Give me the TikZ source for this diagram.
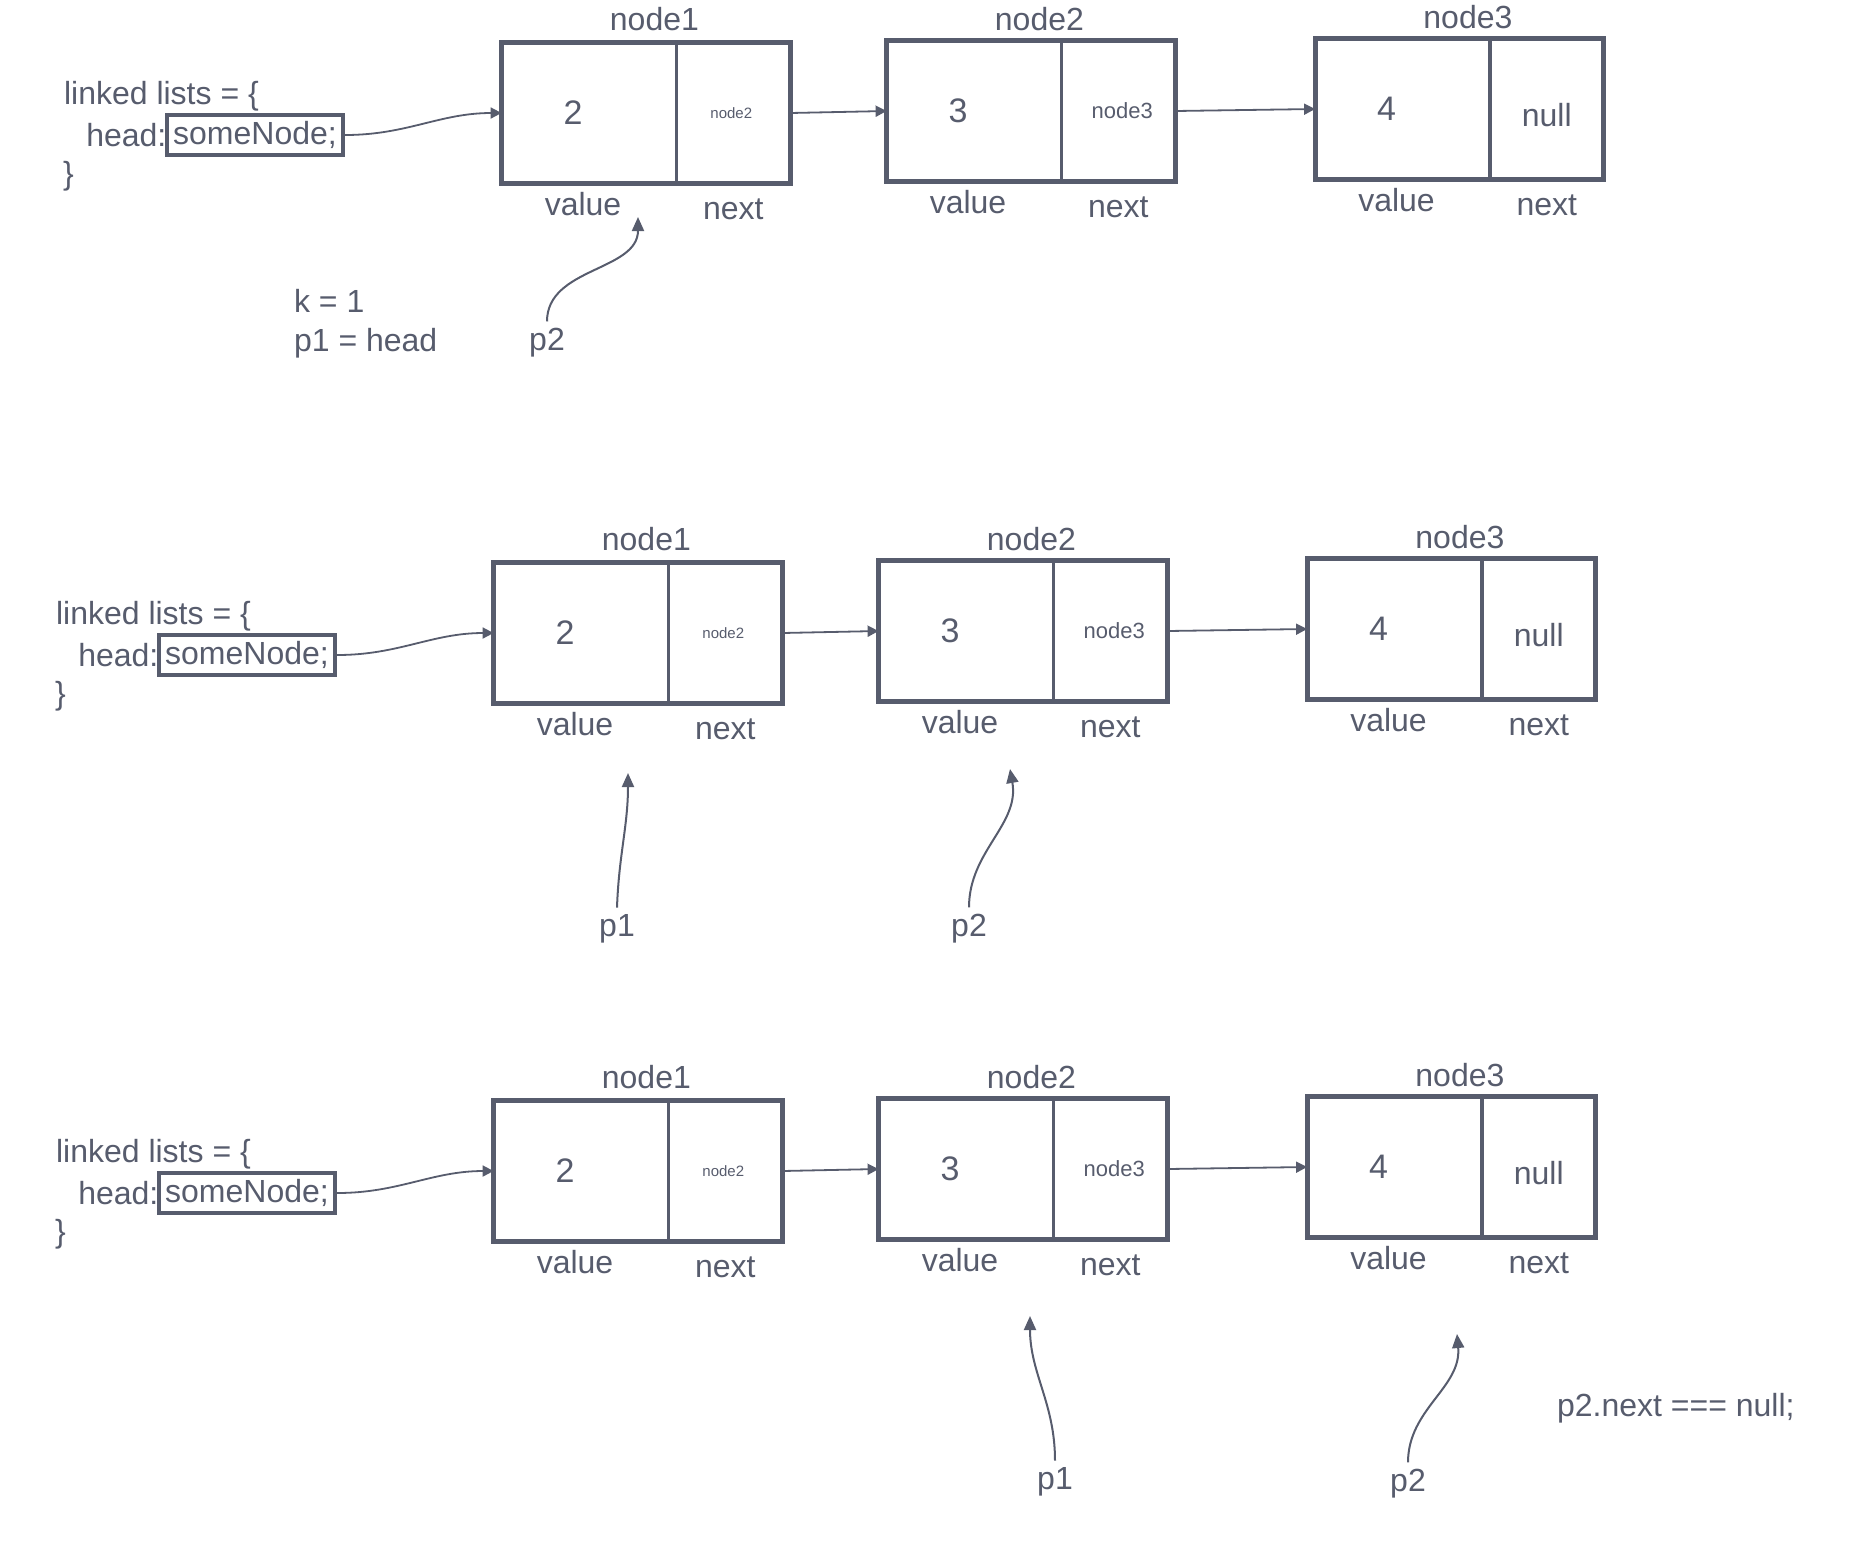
\documentclass[tikz,border=0pt]{standalone}
\usepackage{fontspec}
\setmainfont{Liberation Sans}
\usetikzlibrary{arrows.meta}
\definecolor{ink}{HTML}{575C6D}

\begin{document}
\begin{tikzpicture}[x=0.5pt,y=-0.5pt,color=ink,
    cellv/.style={minimum width=87pt,minimum height=70pt,inner sep=0pt},
    celln/.style={minimum width=56.5pt,minimum height=70pt,inner sep=0pt,anchor=west},
    frame/.style={line width=2.5pt},
    divider/.style={line width=1.8pt},
    lbl/.style={font=\fontsize{16}{19}\selectfont},
    num/.style={font=\fontsize{17}{20}\selectfont},
    small/.style={font=\fontsize{11}{13}\selectfont},
    tiny/.style={font=\fontsize{7.5}{9}\selectfont},
    headbox/.style={draw,line width=2.2pt,minimum width=88pt,minimum height=20pt,inner sep=0pt,font=\fontsize{16}{19}\selectfont},
    link/.style={line width=0.9pt,-{Triangle[length=5.5pt,width=5.5pt]}},
    ptr/.style={line width=1pt,-{Triangle[length=7pt,width=6pt]}}]
    \useasboundingbox (0,0) rectangle (1874,1560);

    % first list
    \node[lbl,anchor=west] (a0) at (57,96) {linked lists = \{};
    \node[headbox] (ahead) at (255,135) {someNode;};
    \node[lbl,anchor=east,inner sep=1pt] (ah) at ([xshift=2pt]ahead.west) {head:};
    \node[lbl,anchor=west] (ac) at (56,176) {\}};

    \node[cellv] (a1v) at (589,113) {};
    \node[celln] (a1n) at (a1v.east) {};
    \draw[frame] (a1v.north west) rectangle (a1n.south east);
    \draw[divider] (a1n.north west) -- (a1n.south west);
    \node[num] (a1x) at ([xshift=-8pt]a1v.center) {2};
    \node[tiny] (a1y) at ([xshift=-1pt]a1n.center) {node2};
    \node[lbl,anchor=base] (a1t) at ([xshift=-11pt,yshift=6pt]a1n.north west) {node1};
    \node[lbl,anchor=base] (a1a) at ([xshift=-3pt,yshift=-16pt]a1v.south) {value};
    \node[lbl,anchor=base] (a1b) at ([yshift=-18pt]a1n.south) {next};

    \node[cellv] (a2v) at (974,111) {};
    \node[celln] (a2n) at (a2v.east) {};
    \draw[frame] (a2v.north west) rectangle (a2n.south east);
    \draw[divider] (a2n.north west) -- (a2n.south west);
    \node[num] (a2x) at ([xshift=-8pt]a2v.center) {3};
    \node[small] (a2y) at ([xshift=2pt]a2n.center) {node3};
    \node[lbl,anchor=base] (a2t) at ([xshift=-11pt,yshift=5pt]a2n.north west) {node2};
    \node[lbl,anchor=base] (a2a) at ([xshift=-3pt,yshift=-16pt]a2v.south) {value};
    \node[lbl,anchor=base] (a2b) at ([yshift=-18pt]a2n.south) {next};

    \node[cellv] (a3v) at (1402.5,109) {};
    \node[celln] (a3n) at (a3v.east) {};
    \draw[frame] (a3v.north west) rectangle (a3n.south east);
    \draw[divider] (a3n.north west) -- (a3n.south west);
    \node[num] (a3x) at ([xshift=-8pt]a3v.center) {4};
    \node[lbl] (a3y) at ([yshift=-3pt]a3n.center) {null};
    \node[lbl,anchor=base] (a3t) at ([xshift=-11pt,yshift=5pt]a3n.north west) {node3};
    \node[lbl,anchor=base] (a3a) at ([xshift=-3pt,yshift=-16pt]a3v.south) {value};
    \node[lbl,anchor=base] (a3b) at ([yshift=-18pt]a3n.south) {next};

    \draw[link] (ahead.east) to[out=0,in=180] (a1v.west);
    \draw[link] (a1n.east) -- (a2v.west);
    \draw[link] (a2n.east) -- (a3v.west);

    \node[lbl,anchor=west] (ak) at (287,301) {k = 1};
    \node[lbl,anchor=west] (ap1) at (287,343) {p1 = head};
    \node[lbl] (ap2) at (547,343) {p2};
    \coordinate (ap2t) at (638,217);
    \draw[ptr] (ap2.north) to[out=90,in=-90] (ap2t);

    % second list
    \node[lbl,anchor=west] (b0) at (49,616) {linked lists = \{};
    \node[headbox] (bhead) at (247,655) {someNode;};
    \node[lbl,anchor=east,inner sep=1pt] (bh) at ([xshift=2pt]bhead.west) {head:};
    \node[lbl,anchor=west] (bc) at (48,696) {\}};

    \node[cellv] (b1v) at (581,633) {};
    \node[celln] (b1n) at (b1v.east) {};
    \draw[frame] (b1v.north west) rectangle (b1n.south east);
    \draw[divider] (b1n.north west) -- (b1n.south west);
    \node[num] (b1x) at ([xshift=-8pt]b1v.center) {2};
    \node[tiny] (b1y) at ([xshift=-1pt]b1n.center) {node2};
    \node[lbl,anchor=base] (b1t) at ([xshift=-11pt,yshift=6pt]b1n.north west) {node1};
    \node[lbl,anchor=base] (b1a) at ([xshift=-3pt,yshift=-16pt]b1v.south) {value};
    \node[lbl,anchor=base] (b1b) at ([yshift=-18pt]b1n.south) {next};

    \node[cellv] (b2v) at (966,631) {};
    \node[celln] (b2n) at (b2v.east) {};
    \draw[frame] (b2v.north west) rectangle (b2n.south east);
    \draw[divider] (b2n.north west) -- (b2n.south west);
    \node[num] (b2x) at ([xshift=-8pt]b2v.center) {3};
    \node[small] (b2y) at ([xshift=2pt]b2n.center) {node3};
    \node[lbl,anchor=base] (b2t) at ([xshift=-11pt,yshift=5pt]b2n.north west) {node2};
    \node[lbl,anchor=base] (b2a) at ([xshift=-3pt,yshift=-16pt]b2v.south) {value};
    \node[lbl,anchor=base] (b2b) at ([yshift=-18pt]b2n.south) {next};

    \node[cellv] (b3v) at (1394.5,629) {};
    \node[celln] (b3n) at (b3v.east) {};
    \draw[frame] (b3v.north west) rectangle (b3n.south east);
    \draw[divider] (b3n.north west) -- (b3n.south west);
    \node[num] (b3x) at ([xshift=-8pt]b3v.center) {4};
    \node[lbl] (b3y) at ([yshift=-3pt]b3n.center) {null};
    \node[lbl,anchor=base] (b3t) at ([xshift=-11pt,yshift=5pt]b3n.north west) {node3};
    \node[lbl,anchor=base] (b3a) at ([xshift=-3pt,yshift=-16pt]b3v.south) {value};
    \node[lbl,anchor=base] (b3b) at ([yshift=-18pt]b3n.south) {next};

    \draw[link] (bhead.east) to[out=0,in=180] (b1v.west);
    \draw[link] (b1n.east) -- (b2v.west);
    \draw[link] (b2n.east) -- (b3v.west);

    \node[lbl] (bp1) at (617,929) {p1};
    \coordinate (bp1t) at (628,773);
    \draw[ptr] (bp1.north) to[out=88,in=-90] (bp1t);
    \node[lbl] (bp2) at (969,929) {p2};
    \coordinate (bp2t) at (1010,769);
    \draw[ptr] (bp2.north) to[out=90,in=-80] (bp2t);

    % third list
    \node[lbl,anchor=west] (c0) at (49,1154) {linked lists = \{};
    \node[headbox] (chead) at (247,1193) {someNode;};
    \node[lbl,anchor=east,inner sep=1pt] (ch) at ([xshift=2pt]chead.west) {head:};
    \node[lbl,anchor=west] (cc) at (48,1234) {\}};

    \node[cellv] (c1v) at (581,1171) {};
    \node[celln] (c1n) at (c1v.east) {};
    \draw[frame] (c1v.north west) rectangle (c1n.south east);
    \draw[divider] (c1n.north west) -- (c1n.south west);
    \node[num] (c1x) at ([xshift=-8pt]c1v.center) {2};
    \node[tiny] (c1y) at ([xshift=-1pt]c1n.center) {node2};
    \node[lbl,anchor=base] (c1t) at ([xshift=-11pt,yshift=6pt]c1n.north west) {node1};
    \node[lbl,anchor=base] (c1a) at ([xshift=-3pt,yshift=-16pt]c1v.south) {value};
    \node[lbl,anchor=base] (c1b) at ([yshift=-18pt]c1n.south) {next};

    \node[cellv] (c2v) at (966,1169) {};
    \node[celln] (c2n) at (c2v.east) {};
    \draw[frame] (c2v.north west) rectangle (c2n.south east);
    \draw[divider] (c2n.north west) -- (c2n.south west);
    \node[num] (c2x) at ([xshift=-8pt]c2v.center) {3};
    \node[small] (c2y) at ([xshift=2pt]c2n.center) {node3};
    \node[lbl,anchor=base] (c2t) at ([xshift=-11pt,yshift=5pt]c2n.north west) {node2};
    \node[lbl,anchor=base] (c2a) at ([xshift=-3pt,yshift=-16pt]c2v.south) {value};
    \node[lbl,anchor=base] (c2b) at ([yshift=-18pt]c2n.south) {next};

    \node[cellv] (c3v) at (1394.5,1167) {};
    \node[celln] (c3n) at (c3v.east) {};
    \draw[frame] (c3v.north west) rectangle (c3n.south east);
    \draw[divider] (c3n.north west) -- (c3n.south west);
    \node[num] (c3x) at ([xshift=-8pt]c3v.center) {4};
    \node[lbl] (c3y) at ([yshift=-3pt]c3n.center) {null};
    \node[lbl,anchor=base] (c3t) at ([xshift=-11pt,yshift=5pt]c3n.north west) {node3};
    \node[lbl,anchor=base] (c3a) at ([xshift=-3pt,yshift=-16pt]c3v.south) {value};
    \node[lbl,anchor=base] (c3b) at ([yshift=-18pt]c3n.south) {next};

    \draw[link] (chead.east) to[out=0,in=180] (c1v.west);
    \draw[link] (c1n.east) -- (c2v.west);
    \draw[link] (c2n.east) -- (c3v.west);

    \node[lbl] (cp1) at (1055,1482) {p1};
    \coordinate (cp1t) at (1030,1316);
    \draw[ptr] (cp1.north) to[out=90,in=-90] (cp1t);
    \node[lbl] (cp2) at (1408,1484) {p2};
    \coordinate (cp2t) at (1457,1334);
    \draw[ptr] (cp2.north) to[out=90,in=-85] (cp2t);
    \node[lbl,anchor=west] (cq) at (1550,1408) {p2.next === null;};

\end{tikzpicture}
\end{document}
